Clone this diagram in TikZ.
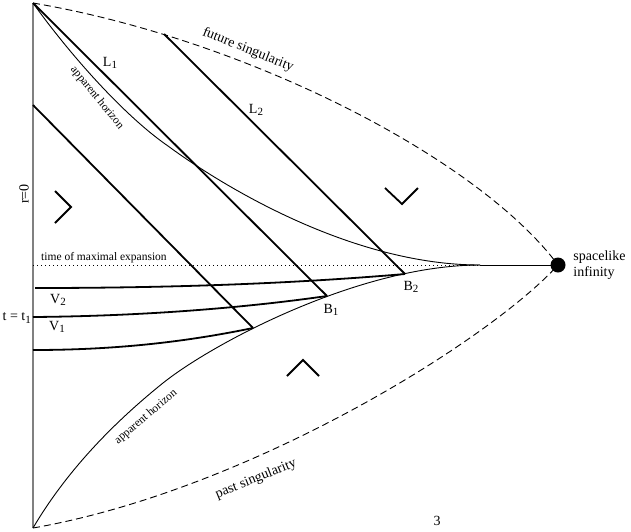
\documentclass[tikz,border=0pt]{standalone}
\usepackage{fontspec}
\setmainfont{Liberation Serif}
\usetikzlibrary{positioning}

\newcommand{\lsub}[1]{\raisebox{-2.3pt}{\fontsize{11}{11}\selectfont #1}}

\tikzset{
  ray/.style={line width=1.8pt},
  slice/.style={line width=1.8pt},
  horizon/.style={line width=0.9pt},
  sing/.style={line width=0.9pt,dash pattern=on 7pt off 4pt},
  axis/.style={line width=1.6pt,gray},
  chev/.style={line width=1.8pt},
  lbl/.style={inner sep=0pt,font=\fontsize{14}{16}\selectfont},
  small/.style={inner sep=0pt,font=\fontsize{11.5}{13}\selectfont}
}

\begin{document}
\begin{tikzpicture}[x=1pt,y=-1pt]
\useasboundingbox (0,0) rectangle (631,531);
\coordinate (top) at (33,3);
\coordinate (bot) at (33,528);
\coordinate (fs) at (164,34);
\coordinate (ax) at (33,105);
\coordinate (B1) at (327,296);
\coordinate (B2) at (405,274);
\coordinate (Ve) at (253,328);
\coordinate (mx) at (33,265);
\coordinate (tip) at (480,265);
\node[circle,fill,minimum size=15pt,inner sep=0pt] (inf) at (558,265) {};

% r=0 and singularities
\draw[axis] (top) -- (bot);
\draw[sing] (top) .. controls (250,40) and (480,160) .. (inf.center);
\draw[sing] (bot) .. controls (250,490) and (490,340) .. (inf.center);
\draw[dash pattern=on 1pt off 3pt] (mx) -- (inf.center);

% apparent horizons
\draw[horizon] (top) .. controls (68,52) and (123,115) .. (168,146)
  .. controls (228,190) and (355,265) .. (tip);
\draw[horizon] (bot) .. controls (66,472) and (112,424) .. (163,383)
  .. controls (213,343) and (360,265) .. (tip);
\draw[horizon] (tip) -- (inf.center);

% light rays
\draw[ray] (top) -- (B1);
\draw[ray] (fs) -- (B2);
\draw[ray] (ax) -- (Ve);

% spacelike slices
\draw[slice] (35,288) .. controls (180,288) and (300,283) .. (B2);
\draw[slice] (33,317) .. controls (150,316) and (250,307) .. (B1);
\draw[slice] (33,350) .. controls (120,350) and (190,341) .. (Ve);

% arrows of time
\draw[chev] (55,191) -- (71,207) -- (55,223);
\draw[chev] (385,188) -- (402,204) -- (418,188);
\draw[chev] (287,376) -- (303,360) -- (319,376);

\node[lbl,rotate=90] (r0) at (24,194) {r=0};
\node[lbl] (l1) at (110,63) {L\lsub{1}};
\node[lbl] (l2) at (256,110) {L\lsub{2}};
\node[lbl] (b1) at (331,310) {B\lsub{1}};
\node[lbl] (b2) at (411,287) {B\lsub{2}};
\node[lbl] (v2) at (58,300) {V\lsub{2}};
\node[lbl] (v1) at (57,327) {V\lsub{1}};
\node[lbl,anchor=east] (t1) at (31,318) {t = t\lsub{1}};
\node[small,anchor=west] (tmax) at (41,258) {time of maximal expansion};
\node[lbl,align=left,anchor=west,right=7.5pt of inf] (spinf) {spacelike\\infinity};
\node[lbl,rotate=-22] (fut) at (248,50) {future singularity};
\node[lbl,rotate=22] (past) at (256,479) {past singularity};
\node[small,rotate=-51] (ah1) at (97,98) {apparent horizon};
\node[small,rotate=40] (ah2) at (146,417) {apparent horizon};
\node[lbl] (pg) at (437,521) {3};
\end{tikzpicture}
\end{document}
